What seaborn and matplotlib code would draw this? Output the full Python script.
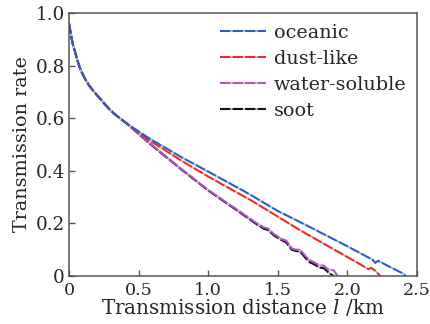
import numpy as np
import pandas as pd
import matplotlib
matplotlib.use("Agg")
import matplotlib.pyplot as plt
import seaborn as sns

# shared start of all four curves
x_start = [0.0, 0.01, 0.02, 0.03, 0.043, 0.06, 0.079, 0.1, 0.125, 0.15, 0.2, 0.25, 0.295, 0.35, 0.414]
y_start = [0.96, 0.93, 0.90, 0.875, 0.853, 0.82, 0.79, 0.765, 0.74, 0.72, 0.688, 0.658, 0.631, 0.606, 0.58]

oceanic_x = x_start + [0.58, 0.8, 1.0, 1.3, 1.5, 1.66, 2.0, 2.18, 2.2, 2.22, 2.3, 2.39, 2.42]
oceanic_y = y_start + [0.522, 0.454, 0.397, 0.31, 0.247, 0.205, 0.113, 0.062, 0.05, 0.058, 0.036, 0.012, 0.0]

dust_x = x_start + [0.58, 0.8, 1.0, 1.3, 1.5, 1.66, 2.0, 2.1, 2.15, 2.17, 2.2, 2.235]
dust_y = y_start + [0.515, 0.441, 0.378, 0.29, 0.226, 0.174, 0.072, 0.042, 0.026, 0.031, 0.02, 0.0]

water_x = x_start + [0.58, 0.8, 1.0, 1.2, 1.35, 1.4, 1.43, 1.47, 1.5, 1.53, 1.56, 1.6, 1.63, 1.66,
                     1.7, 1.73, 1.76, 1.8, 1.83, 1.86, 1.9, 1.93]
water_y = y_start + [0.505, 0.41, 0.327, 0.255, 0.2, 0.185, 0.18, 0.16, 0.15, 0.14, 0.135, 0.105, 0.1, 0.1,
                     0.075, 0.06, 0.052, 0.04, 0.04, 0.025, 0.022, 0.0]

soot_x = x_start + [0.58, 0.8, 1.0, 1.2, 1.35, 1.4, 1.43, 1.47, 1.5, 1.53, 1.56, 1.6, 1.63, 1.66,
                    1.7, 1.73, 1.76, 1.8, 1.83, 1.86, 1.9]
soot_y = y_start + [0.503, 0.408, 0.325, 0.252, 0.196, 0.18, 0.175, 0.155, 0.145, 0.136, 0.128, 0.1, 0.095, 0.093,
                    0.068, 0.052, 0.045, 0.032, 0.03, 0.015, 0.0]

series = [
    ("oceanic", oceanic_x, oceanic_y, "#2a5fc0"),
    ("dust-like", dust_x, dust_y, "#f02a22"),
    ("water-soluble", water_x, water_y, "#b052c8"),
    ("soot", soot_x, soot_y, "#111111"),
]

sns.set_theme(style="ticks")
plt.rcParams["font.family"] = ["DejaVu Serif"]
plt.rcParams["mathtext.fontset"] = "dejavuserif"

FS = 13.8

fig = plt.figure(figsize=(4.3, 3.24), dpi=100)
ax = fig.add_axes([0.1605, 0.148, 0.8095, 0.812])

# draw last-listed first so oceanic/dust sit on top like the original
for name, xs, ys, color in series[::-1]:
    df = pd.DataFrame({"x": xs, "y": ys})
    sns.lineplot(data=df, x="x", y="y", ax=ax, sort=False, estimator=None,
                 color=color, linewidth=1.5, linestyle=(0, (5, 1)),
                 gapcolor="#c4c4c4", label=name)

handles, labels = ax.get_legend_handles_labels()
ax.legend(handles[::-1], labels[::-1], loc="upper right", frameon=False,
          fontsize=FS, handlelength=2.4, handletextpad=0.4, labelspacing=0.42,
          borderaxespad=0.2, borderpad=0.35)

ax.set_xlim(0, 2.5)
ax.set_ylim(0, 1.0)
ax.set_xticks([0, 0.5, 1.0, 1.5, 2.0, 2.5])
ax.set_xticklabels(["0", "0.5", "1.0", "1.5", "2.0", "2.5"])
ax.set_yticks([0, 0.2, 0.4, 0.6, 0.8, 1.0])
ax.set_yticklabels(["0", "0.2", "0.4", "0.6", "0.8", "1.0"])
ax.tick_params(direction="in", length=4, width=1.0, color="#555555",
               labelsize=13.2, top=False, right=False)
ax.tick_params(axis="x", pad=4, labelsize=12.6)
ax.tick_params(axis="y", pad=3)

for sp in ax.spines.values():
    sp.set_color("#555555")
    sp.set_linewidth(1.1)

ax.set_xlabel("Transmission distance $l$ /km", fontsize=FS + 0.5, labelpad=-1)
ax.set_ylabel("Transmission rate", fontsize=FS, labelpad=3)

fig.savefig("out.png", dpi=100)
